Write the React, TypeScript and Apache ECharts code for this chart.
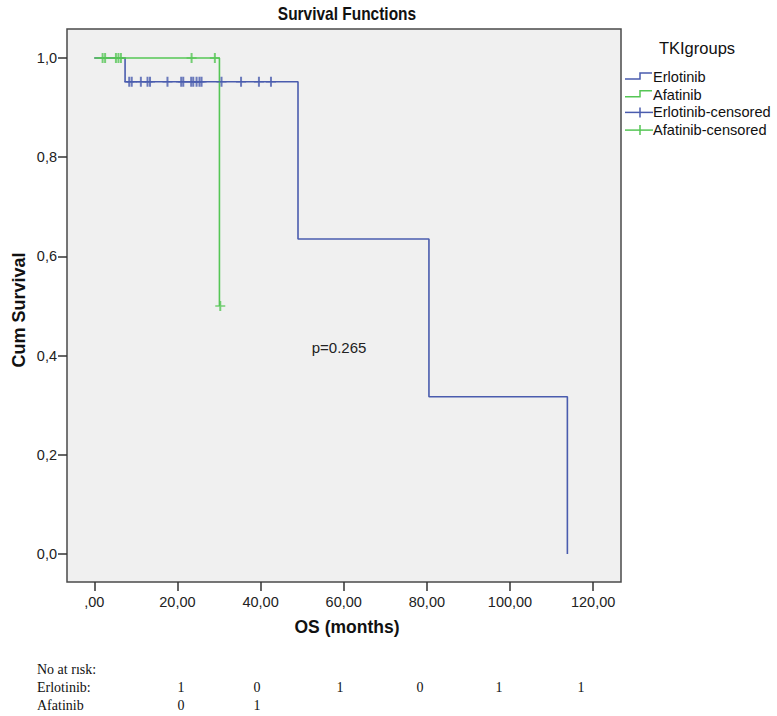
import React, { useEffect, useRef } from "react";
import * as echarts from "echarts";

// ---- data ----
const erlotinibTimes = [0, 7.4, 49.0, 80.5, 113.8];
const erlotinibSurv = [1, 0.952, 0.635, 0.317, 0];
const afatinibTimes = [0, 30.1];
const afatinibSurv = [1, 0.5];
const erlotinibCensTimes = [8.4, 9.0, 11.2, 12.8, 13.4, 17.6, 20.9, 21.4, 23.3, 23.8, 24.6, 25.3, 25.8, 30.6, 35.3, 39.6, 42.5];
const erlotinibCensSurv = 0.952;
const afatinibCensTimes = [2.0, 2.6, 5.2, 5.8, 6.4, 23.4, 29.0, 30.3];
const afatinibCensSurv = [1, 1, 1, 1, 1, 1, 1, 0.5];
const xTicks = [0, 20, 40, 60, 80, 100, 120];
const yTicks = [0, 0.2, 0.4, 0.6, 0.8, 1.0];
const legendNames = ["Erlotinib", "Afatinib", "Erlotinib-censored", "Afatinib-censored"];
const riskHeader = "No at rısk:";
const riskRowNames = ["Erlotinib:", "Afatinib"];
const riskErlotinib = ["1", "0", "1", "0", "1", "1"];
const riskAfatinib = ["0", "1"];
const pText = "p=0.265";

// ---- styles / layout ----
const BLUE = "#4a5cae";
const GREEN = "#55c655";
const SANS = "'Liberation Sans', Arial, sans-serif";
const SERIF = "'Liberation Serif', 'Times New Roman', serif";
const riskColX = [181, 257, 340, 420, 499, 581];
const PLUS = "path://M4,0h2v10h-2z M0,4.2h10v1.6h-10z";

export default function App() {
  const ref = useRef<HTMLDivElement>(null);
  useEffect(() => {
    if (!ref.current) return;
    const chart = echarts.init(ref.current, null, { renderer: "svg" });
    const erl = erlotinibTimes.map((t, i) => [t, erlotinibSurv[i]]);
    const afa = afatinibTimes.map((t, i) => [t, afatinibSurv[i]]);
    const erlC = erlotinibCensTimes.map((t) => [t, erlotinibCensSurv]);
    const afaC = afatinibCensTimes.map((t, i) => [t, afatinibCensSurv[i]]);

    const legendY0 = 77;
    const legendDy = 17.7;
    const legendGraphics: any[] = [];
    legendNames.forEach((name, i) => {
      const y = legendY0 + i * legendDy;
      const color = i % 2 === 0 ? BLUE : GREEN;
      if (i < 2) {
        legendGraphics.push({
          type: "polyline",
          shape: { points: [[625, y + 2], [640, y + 2], [640, y - 4], [652, y - 4]] },
          style: { stroke: color, lineWidth: 1.5, fill: null },
        });
      } else {
        legendGraphics.push({
          type: "line",
          shape: { x1: 625, y1: y, x2: 653, y2: y },
          style: { stroke: color, lineWidth: 1.5 },
        });
        legendGraphics.push({
          type: "line",
          shape: { x1: 640, y1: y - 5, x2: 640, y2: y + 5 },
          style: { stroke: color, lineWidth: 1.5 },
        });
      }
      legendGraphics.push({
        type: "text",
        x: 653,
        y,
        style: { text: name, font: `14.6px ${SANS}`, fill: "#111", textVerticalAlign: "middle", textAlign: "left" },
      });
    });

    const tableGraphics: any[] = [];
    const rowY = [669, 687, 705];
    tableGraphics.push({ type: "text", x: 37, y: rowY[0], style: { text: riskHeader, font: `14px ${SERIF}`, fill: "#111", textVerticalAlign: "middle" } });
    riskRowNames.forEach((n, i) => {
      tableGraphics.push({ type: "text", x: 37, y: rowY[i + 1], style: { text: n, font: `14px ${SERIF}`, fill: "#111", textVerticalAlign: "middle" } });
    });
    [riskErlotinib, riskAfatinib].forEach((row, r) => {
      row.forEach((v, c) => {
        tableGraphics.push({ type: "text", x: riskColX[c], y: rowY[r + 1], style: { text: v, font: `14px ${SERIF}`, fill: "#111", textAlign: "center", textVerticalAlign: "middle" } });
      });
    });

    chart.setOption({
      animation: false,
      backgroundColor: "#ffffff",
      grid: {
        left: 67, top: 29, width: 554, height: 553,
        show: true, backgroundColor: "#f0f0f0", borderColor: "#4a4a4a", borderWidth: 1.5,
      },
      xAxis: {
        type: "value", min: -6.57, max: 126.7,
        splitLine: { show: false },
        axisLine: { show: false, onZero: false },
        axisTick: { show: true, inside: false, length: 9, lineStyle: { color: "#333", width: 1.5 }, customValues: xTicks },
        axisLabel: {
          customValues: xTicks, margin: 12, color: "#222", fontFamily: SANS, fontSize: 14.5,
          formatter: (v: number) => (v === 0 ? ",00" : v.toFixed(2).replace(".", ",")),
        },
      },
      yAxis: {
        type: "value", min: -0.0564, max: 1.0584,
        splitLine: { show: false },
        axisLine: { show: false, onZero: false },
        axisTick: { show: true, inside: false, length: 9, lineStyle: { color: "#333", width: 1.5 }, customValues: yTicks },
        axisLabel: {
          customValues: yTicks, margin: 10, color: "#222", fontFamily: SANS, fontSize: 14.5,
          formatter: (v: number) => v.toFixed(1).replace(".", ","),
        },
      },
      series: [
        { name: "Erlotinib", type: "line", step: "end", data: erl, symbol: "none", lineStyle: { color: BLUE, width: 1.6 }, z: 2 },
        { name: "Afatinib", type: "line", step: "end", data: afa, symbol: "none", lineStyle: { color: GREEN, width: 1.6 }, z: 3 },
        { name: "Erlotinib-censored", type: "scatter", data: erlC, symbol: PLUS, symbolSize: 10, itemStyle: { color: BLUE }, z: 4 },
        { name: "Afatinib-censored", type: "scatter", data: afaC, symbol: PLUS, symbolSize: 10, itemStyle: { color: GREEN }, z: 5 },
      ],
      graphic: [
        { type: "text", x: 347, y: 14, scaleX: 0.86, style: { text: "Survival Functions", font: `bold 18px ${SANS}`, fill: "#111", textAlign: "center", textVerticalAlign: "middle" } },
        { type: "text", x: 347, y: 627, style: { text: "OS (months)", font: `bold 17.5px ${SANS}`, fill: "#111", textAlign: "center", textVerticalAlign: "middle" } },
        { type: "text", x: 19, y: 310, rotation: Math.PI / 2, style: { text: "Cum Survival", font: `bold 18px ${SANS}`, fill: "#111", textAlign: "center", textVerticalAlign: "middle" } },
        { type: "text", x: 339, y: 347, style: { text: pText, font: `15px ${SANS}`, fill: "#222", textAlign: "center", textVerticalAlign: "middle" } },
        { type: "text", x: 697, y: 48, style: { text: "TKIgroups", font: `16.5px ${SANS}`, fill: "#111", textAlign: "center", textVerticalAlign: "middle" } },
        ...legendGraphics,
        ...tableGraphics,
      ],
    });
    return () => chart.dispose();
  }, []);
  return <div ref={ref} style={{ position: "fixed", left: 0, top: 0, width: 777, height: 716 }} />;
}
